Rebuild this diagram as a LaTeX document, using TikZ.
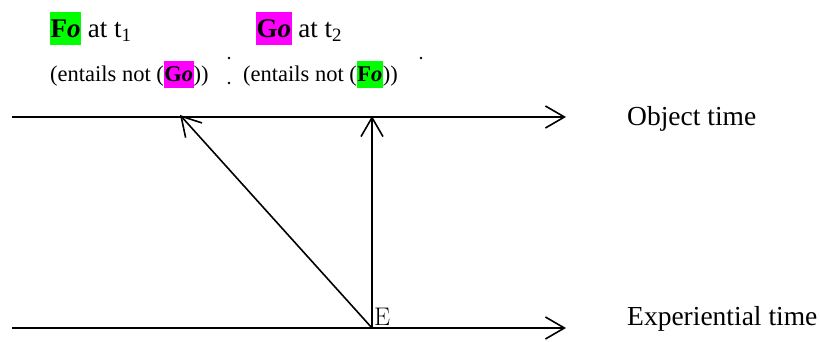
\documentclass[tikz,border=0pt]{standalone}
\usepackage{fontspec}
\setmainfont{Liberation Serif}
\newfontfamily\lmfont{Latin Modern Roman}
\usetikzlibrary{arrows.meta}
\definecolor{brightgreen}{RGB}{0,255,0}
\definecolor{brightmag}{RGB}{255,0,255}
\newcommand{\hlbox}[4]{{\setlength{\fboxsep}{0pt}\colorbox{#1}{\hspace{0.5pt}\rule[-#3pt]{0pt}{#4pt}\textbf{#2\textit{o}}\hspace{0.5pt}}}}
\begin{document}
\begin{tikzpicture}[x=1pt,y=-1pt,
  axis/.style={line width=1.6pt,-{Straight Barb[length=19pt,width=22pt]}},
  ray/.style={line width=1.6pt,-{Straight Barb[length=19pt,width=22pt]}},
  lbl/.style={anchor=base west,inner sep=0pt,font=\fontsize{27.5}{30}\selectfont},
  top/.style={anchor=base west,inner sep=0pt,font=\fontsize{27}{30}\selectfont},
  sub/.style={anchor=base west,inner sep=0pt,font=\fontsize{22.5}{26}\selectfont},
  dot/.style={circle,fill=black,inner sep=0pt,minimum size=2.6pt}]
\useasboundingbox (0,0) rectangle (820,342);
% axes
\coordinate (o1) at (12,117);
\coordinate (o2) at (566,117);
\coordinate (e1) at (12,328);
\coordinate (e2) at (566,328);
\coordinate (E) at (372,328);
\coordinate (t2) at (372,116);
\coordinate (t1) at (180,115);
\draw[axis] (o1) -- (o2);
\draw[axis] (e1) -- (e2);
\draw[ray] (E) -- (t2);
\draw[ray] (E) -- (t1);
% labels
\node[lbl] (objlbl) at (627,126) {Object time};
\node[lbl] (explbl) at (627,325) {Experiential time};
\node[anchor=base west,inner sep=0pt,font=\lmfont\fontsize{25.5}{28}\selectfont] (Elbl) at (374,325) {E};
% top texts
\node[top] (f1) at (50,38) {\hlbox{brightgreen}{F}{7}{33} at t\textsubscript{1}};
\node[top] (g2) at (256,38) {\hlbox{brightmag}{G}{7}{33} at t\textsubscript{2}};
\node[sub] (n1) at (50,82) {(entails not (\hlbox{brightmag}{G}{6}{27}))};
\node[sub] (n2) at (243,82) {(entails not (\hlbox{brightgreen}{F}{6}{27}))};
\node[dot] (d1) at (229,58) {};
\node[dot] (d2) at (229,83) {};
\node[dot] (d3) at (421,58) {};
\end{tikzpicture}
\end{document}
